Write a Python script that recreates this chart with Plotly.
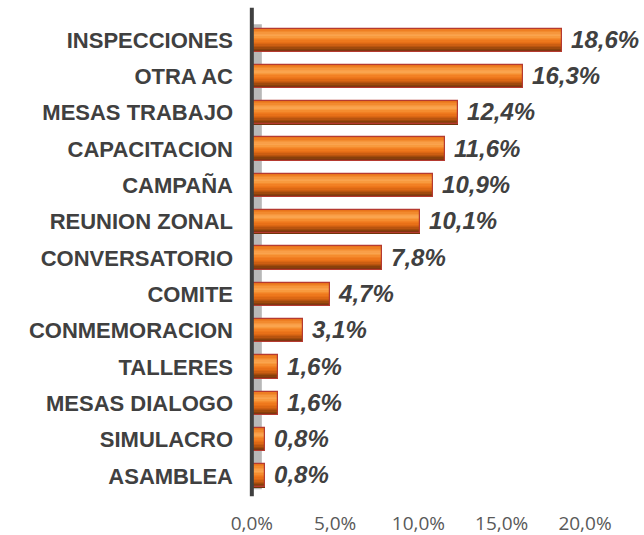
import plotly.graph_objects as go

categories = ["INSPECCIONES", "OTRA AC", "MESAS TRABAJO", "CAPACITACION", "CAMPAÑA",
              "REUNION ZONAL", "CONVERSATORIO", "COMITE", "CONMEMORACION", "TALLERES",
              "MESAS DIALOGO", "SIMULACRO", "ASAMBLEA"]
values = [18.6, 16.3, 12.4, 11.6, 10.9, 10.1, 7.8, 4.7, 3.1, 1.6, 1.6, 0.8, 0.8]
value_labels = ["18,6%", "16,3%", "12,4%", "11,6%", "10,9%", "10,1%", "7,8%",
                "4,7%", "3,1%", "1,6%", "1,6%", "0,8%", "0,8%"]
tick_vals = [0, 5, 10, 15, 20]
tick_text = ["0,0%", "5,0%", "10,0%", "15,0%", "20,0%"]

BW = 0.64
band_colors = ["#E8741C", "#EE7E22", "#F28A2E", "#F6963C", "#F99F48", "#FAA44E",
               "#F89A3E", "#F58C2E", "#F28024", "#EE781C", "#E87018", "#DC6814",
               "#CC5E12", "#B8540F", "#A04A0D", "#88400B", "#723408"]
n = len(band_colors)

fig = go.Figure()
for k, col in enumerate(band_colors):
    f0, f1 = k / n, (k + 1) / n
    fig.add_trace(go.Bar(
        x=values, y=categories, orientation="h",
        width=(f1 - f0) * BW + 0.006, offset=-BW / 2 + f0 * BW,
        marker=dict(color=col, line=dict(width=0)),
        hoverinfo="skip", showlegend=False,
    ))
fig.add_trace(go.Bar(
    x=values, y=categories, orientation="h",
    width=BW, offset=-BW / 2,
    marker=dict(color="rgba(0,0,0,0)", line=dict(color="#B53A30", width=1.2)),
    text=value_labels, textposition="outside", cliponaxis=False,
    constraintext="none",
    texttemplate="&nbsp;%{text}",
    textfont=dict(family="Liberation Sans, Arial", size=24, color="#404040",
                  weight="bold", style="italic"),
    showlegend=False,
))

# 3D wall
fig.add_shape(type="rect", xref="x", yref="paper", x0=0.05, x1=0.6, y0=0.01, y1=0.995,
              fillcolor="#B8B8B8", line=dict(width=0), layer="below")
fig.add_shape(type="line", xref="x", yref="paper", x0=0, x1=0, y0=-0.005, y1=1.03,
              line=dict(color="#404040", width=4), layer="above")

fig.update_layout(
    width=644, height=535,
    margin=dict(l=246, r=59, t=22, b=41),
    paper_bgcolor="white", plot_bgcolor="white",
    barmode="overlay", bargap=0,
    xaxis=dict(range=[-0.35, 20], tickvals=tick_vals, ticktext=tick_text,
               showgrid=False, zeroline=False, showline=False, automargin=False,
               tickfont=dict(family="Open Sans", size=19, color="#595959"),
               ticklabelstandoff=16),
    yaxis=dict(autorange="reversed", showgrid=False, zeroline=False, showline=False,
               automargin=False,
               tickfont=dict(family="Liberation Sans, Arial", size=22, color="#404040",
                             weight="bold"),
               ticklabelstandoff=12),
)

fig.write_html("out.html", config={"displayModeBar": False},
               post_script="document.body.style.margin='0';document.body.style.overflow='hidden';")
